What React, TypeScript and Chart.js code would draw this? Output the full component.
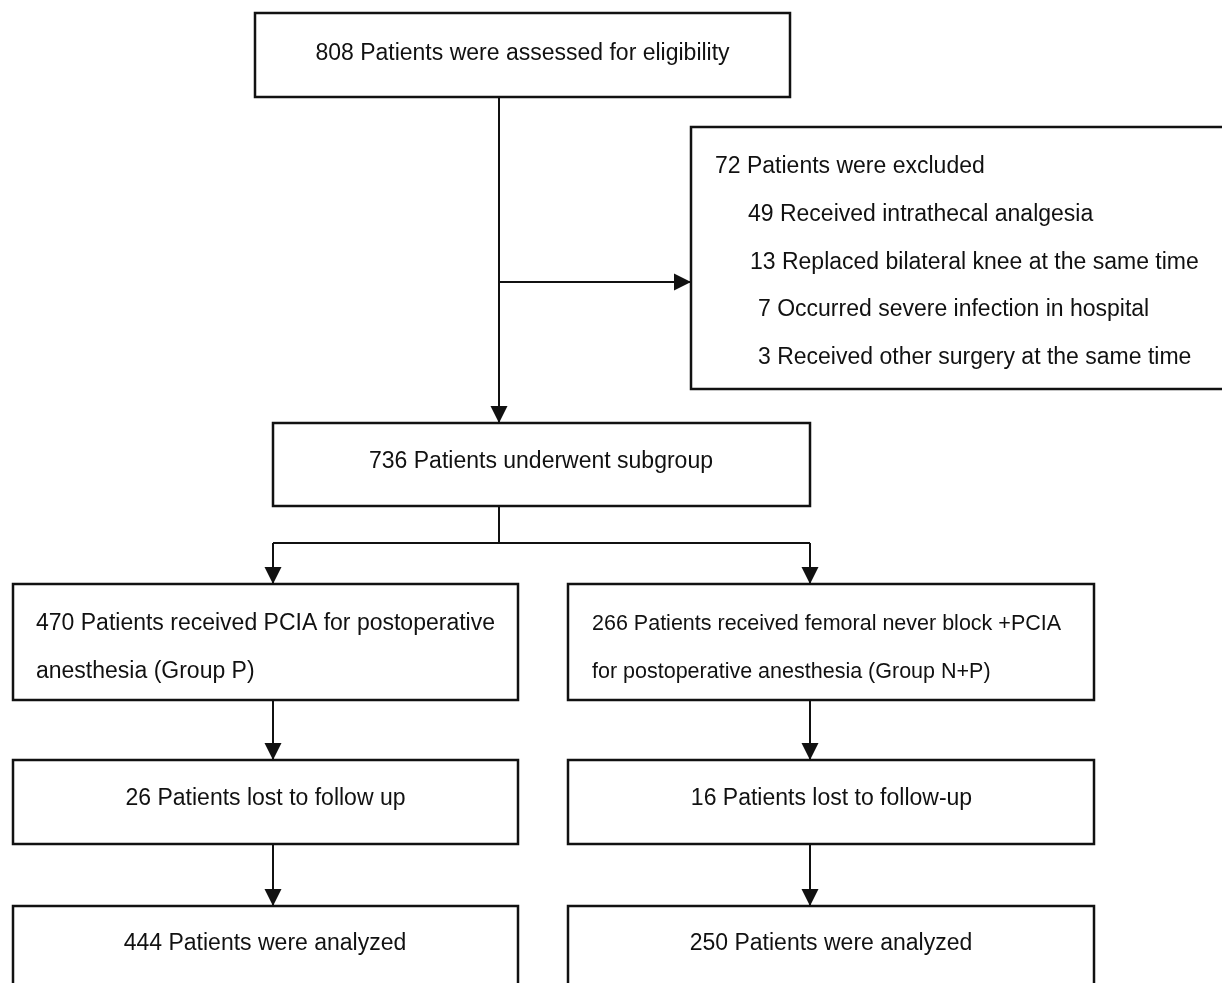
import React, { useEffect, useRef } from "react";
import { Chart, registerables } from "chart.js";

Chart.register(...registerables);

// ---- Flow content (text / counts) ----
const screenedLines = ["808 Patients were assessed for eligibility"];
const excludedLines = [
  "72 Patients were excluded",
  "49 Received intrathecal analgesia",
  "13 Replaced bilateral knee at the same time",
  "7 Occurred severe infection in hospital",
  "3 Received other surgery at the same time",
];
const subgroupLines = ["736 Patients underwent subgroup"];
const groupPLines = ["470 Patients received PCIA for postoperative", "anesthesia (Group P)"];
const groupNPLines = ["266 Patients received femoral never block +PCIA", "for postoperative anesthesia (Group N+P)"];
const lostPLines = ["26 Patients lost to follow up"];
const lostNPLines = ["16 Patients lost to follow-up"];
const analyzedPLines = ["444 Patients were analyzed"];
const analyzedNPLines = ["250 Patients were analyzed"];

// ---- Layout (chart-space units; x 0..1222, y 0..983 downward) ----
type BoxLayout = {
  lines: string[];
  x0: number;
  y0: number;
  x1: number;
  y1: number;
  align: "center" | "left";
  tx: number[];
  ty: number[];
  size: number;
};

const BOXES: BoxLayout[] = [
  { lines: screenedLines, x0: 255, y0: 13, x1: 790, y1: 97, align: "center", tx: [522.5], ty: [59.5], size: 23 },
  { lines: excludedLines, x0: 691, y0: 127, x1: 1234, y1: 389, align: "left", tx: [715, 748, 750, 758, 758], ty: [173, 220.5, 268.5, 316, 364], size: 23 },
  { lines: subgroupLines, x0: 273, y0: 423, x1: 810, y1: 506, align: "center", tx: [541], ty: [468], size: 23 },
  { lines: groupPLines, x0: 13, y0: 584, x1: 518, y1: 700, align: "left", tx: [36, 36], ty: [630, 678], size: 23 },
  { lines: groupNPLines, x0: 568, y0: 584, x1: 1094, y1: 700, align: "left", tx: [592, 592], ty: [630, 678], size: 21.5 },
  { lines: lostPLines, x0: 13, y0: 760, x1: 518, y1: 844, align: "center", tx: [265.5], ty: [805], size: 23 },
  { lines: lostNPLines, x0: 568, y0: 760, x1: 1094, y1: 844, align: "center", tx: [831.5], ty: [805], size: 23 },
  { lines: analyzedPLines, x0: 13, y0: 906, x1: 518, y1: 998, align: "center", tx: [265], ty: [950], size: 23 },
  { lines: analyzedNPLines, x0: 568, y0: 906, x1: 1094, y1: 998, align: "center", tx: [831], ty: [950], size: 23 },
];

type Connector = { pts: [number, number][]; arrow: boolean };
const CONNECTORS: Connector[] = [
  { pts: [[499, 97], [499, 423]], arrow: true },
  { pts: [[499, 282], [691, 282]], arrow: true },
  { pts: [[499, 506], [499, 543]], arrow: false },
  { pts: [[273, 543], [810, 543]], arrow: false },
  { pts: [[273, 543], [273, 584]], arrow: true },
  { pts: [[810, 543], [810, 584]], arrow: true },
  { pts: [[273, 700], [273, 760]], arrow: true },
  { pts: [[810, 700], [810, 760]], arrow: true },
  { pts: [[273, 844], [273, 906]], arrow: true },
  { pts: [[810, 844], [810, 906]], arrow: true },
];

const INK = "#111111";
const fontFor = (size: number) => `${size}px "Liberation Sans", Arial, sans-serif`;

const flowPlugin = {
  id: "flowDiagram",
  afterDraw(chart: any) {
    const ctx: CanvasRenderingContext2D = chart.ctx;
    const xs = chart.scales.x;
    const ys = chart.scales.y;
    const px = (v: number) => xs.getPixelForValue(v);
    const py = (v: number) => ys.getPixelForValue(v);
    ctx.save();

    // connectors
    ctx.strokeStyle = INK;
    ctx.fillStyle = INK;
    ctx.lineWidth = 2;
    for (const c of CONNECTORS) {
      const pts = c.pts.map(([x, y]) => [px(x), py(y)]);
      ctx.beginPath();
      ctx.moveTo(pts[0][0], pts[0][1]);
      for (let i = 1; i < pts.length; i++) ctx.lineTo(pts[i][0], pts[i][1]);
      ctx.stroke();
      if (c.arrow) {
        const [ax, ay] = pts[pts.length - 2];
        const [bx, by] = pts[pts.length - 1];
        const ang = Math.atan2(by - ay, bx - ax);
        const len = 17;
        const hw = 8.5;
        ctx.save();
        ctx.translate(bx, by);
        ctx.rotate(ang);
        ctx.beginPath();
        ctx.moveTo(0, 0);
        ctx.lineTo(-len, -hw);
        ctx.lineTo(-len, hw);
        ctx.closePath();
        ctx.fill();
        ctx.restore();
      }
    }

    // boxes
    ctx.lineWidth = 2.5;
    for (const b of BOXES) {
      const x0 = px(b.x0), x1 = px(b.x1), y0 = py(b.y0), y1 = py(b.y1);
      ctx.fillStyle = "#ffffff";
      ctx.fillRect(x0, y0, x1 - x0, y1 - y0);
      ctx.strokeStyle = INK;
      ctx.strokeRect(x0, y0, x1 - x0, y1 - y0);
      ctx.fillStyle = INK;
      ctx.font = fontFor(b.size);
      ctx.textBaseline = "alphabetic";
      ctx.textAlign = b.align;
      b.lines.forEach((line, i) => {
        ctx.fillText(line, px(b.tx[i]), py(b.ty[i]));
      });
    }
    ctx.restore();
  },
};

export default function App() {
  const canvasRef = useRef<HTMLCanvasElement | null>(null);

  useEffect(() => {
    document.body.style.margin = "0";
    const canvas = canvasRef.current;
    if (!canvas) return;
    const chart = new Chart(canvas, {
      type: "scatter",
      data: { datasets: [] },
      options: {
        animation: false,
        responsive: false,
        devicePixelRatio: 1,
        events: [],
        layout: { padding: 0 },
        plugins: { legend: { display: false }, tooltip: { enabled: false } },
        scales: {
          x: { type: "linear", min: 0, max: 1222, display: false },
          y: { type: "linear", min: 0, max: 983, reverse: true, display: false },
        },
      },
      plugins: [flowPlugin],
    });
    return () => chart.destroy();
  }, []);

  return (
    <div style={{ position: "fixed", left: 0, top: 0, width: 1222, height: 983, background: "#fff" }}>
      <canvas ref={canvasRef} width={1222} height={983} style={{ display: "block" }} />
    </div>
  );
}
